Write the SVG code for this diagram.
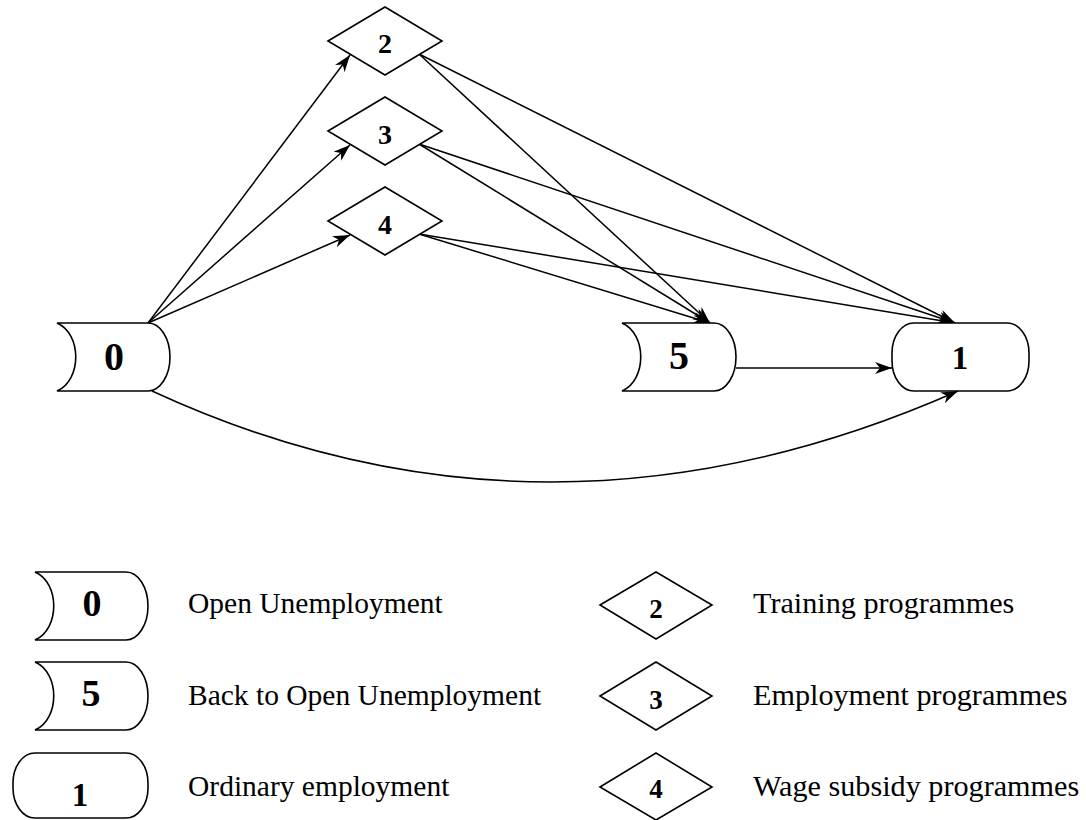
<svg xmlns="http://www.w3.org/2000/svg" width="1086" height="820" viewBox="0 0 1086 820">
<style>
.sh{fill:#fff;stroke:#000;stroke-width:1.6}
.ed{fill:none;stroke:#000;stroke-width:1.5}
.nl{font-family:"Liberation Serif","Times New Roman",serif;font-weight:bold;text-anchor:middle;fill:#000}
.lt{font-family:"Liberation Serif","Times New Roman",serif;font-size:29.5px;fill:#000}
.rt{font-size:30.2px}
</style>
<defs>
<marker id="ah" markerUnits="userSpaceOnUse" markerWidth="18" markerHeight="14" refX="17" refY="6" orient="auto">
<path d="M0,0 L17,6 L0,12 L5,6 Z" fill="#000"/>
</marker>
</defs>
<g id="connectors">
<path class="ed" d="M148,323 L350,55" marker-end="url(#ah)"/>
<path class="ed" d="M148,323 L350,145" marker-end="url(#ah)"/>
<path class="ed" d="M148,323 L350,235" marker-end="url(#ah)"/>
<path class="ed" d="M419,54 L710,323" marker-end="url(#ah)"/>
<path class="ed" d="M419,54 L955,323" marker-end="url(#ah)"/>
<path class="ed" d="M419,144 L710,323" marker-end="url(#ah)"/>
<path class="ed" d="M419,144 L955,323" marker-end="url(#ah)"/>
<path class="ed" d="M419,234 L710,323" marker-end="url(#ah)"/>
<path class="ed" d="M419,234 L955,323" marker-end="url(#ah)"/>
<path class="ed" d="M736,368 L892,368" marker-end="url(#ah)"/>
<path class="ed" d="M152,391 Q546,573 958,391" marker-end="url(#ah)"/>
</g>
<g id="node0">
<path class="sh" d="M57,323 L148,323 A22,34 0 0 1 148,391 L57,391 C82,380 82,334 57,323 Z"/>
<text class="nl" x="114" y="370" font-size="40">0</text>
</g>
<g id="node5">
<path class="sh" d="M622,323 L714,323 A22,34 0 0 1 714,391 L622,391 C647,380 647,334 622,323 Z"/>
<text class="nl" x="679" y="369" font-size="40">5</text>
</g>
<g id="node1">
<rect class="sh" x="892" y="323" width="137" height="68" rx="22" ry="30"/>
<text class="nl" x="960" y="369" font-size="33">1</text>
</g>
<g id="node2">
<polygon class="sh" points="328,41 385,7 442,41 385,75"/>
<text class="nl" x="385" y="53" font-size="28">2</text>
</g>
<g id="node3">
<polygon class="sh" points="328,131 385,97 442,131 385,165"/>
<text class="nl" x="385" y="144" font-size="28">3</text>
</g>
<g id="node4">
<polygon class="sh" points="328,221 385,187 442,221 385,255"/>
<text class="nl" x="385" y="234" font-size="28">4</text>
</g>
<g id="legend">
<g id="leg0">
<path class="sh" d="M35,572 L126,572 A22,34 0 0 1 126,640 L35,640 C60,629 60,583 35,572 Z"/>
<text class="nl" x="92" y="616" font-size="38">0</text>
<text class="lt" x="188" y="613">Open Unemployment</text>
</g>
<g id="leg5">
<path class="sh" d="M35,662 L126,662 A22,34 0 0 1 126,730 L35,730 C60,719 60,673 35,662 Z"/>
<text class="nl" x="91" y="706" font-size="38">5</text>
<text class="lt" x="188" y="705">Back to Open Unemployment</text>
</g>
<g id="leg1">
<rect class="sh" x="13" y="753" width="135" height="65" rx="22" ry="30"/>
<text class="nl" x="80" y="806" font-size="33">1</text>
<text class="lt" x="188" y="796">Ordinary employment</text>
</g>
<g id="leg2">
<polygon class="sh" points="600,605 656,572 712,605 656,639"/>
<text class="nl" x="656" y="618" font-size="27">2</text>
<text class="lt rt" x="753" y="613">Training programmes</text>
</g>
<g id="leg3">
<polygon class="sh" points="600,696 656,662 712,696 656,730"/>
<text class="nl" x="656" y="709" font-size="27">3</text>
<text class="lt rt" x="753" y="705">Employment programmes</text>
</g>
<g id="leg4">
<polygon class="sh" points="600,787 656,753 712,787 656,820"/>
<text class="nl" x="656" y="798" font-size="27">4</text>
<text class="lt rt" x="753" y="796">Wage subsidy programmes</text>
</g>
</g>
</svg>
